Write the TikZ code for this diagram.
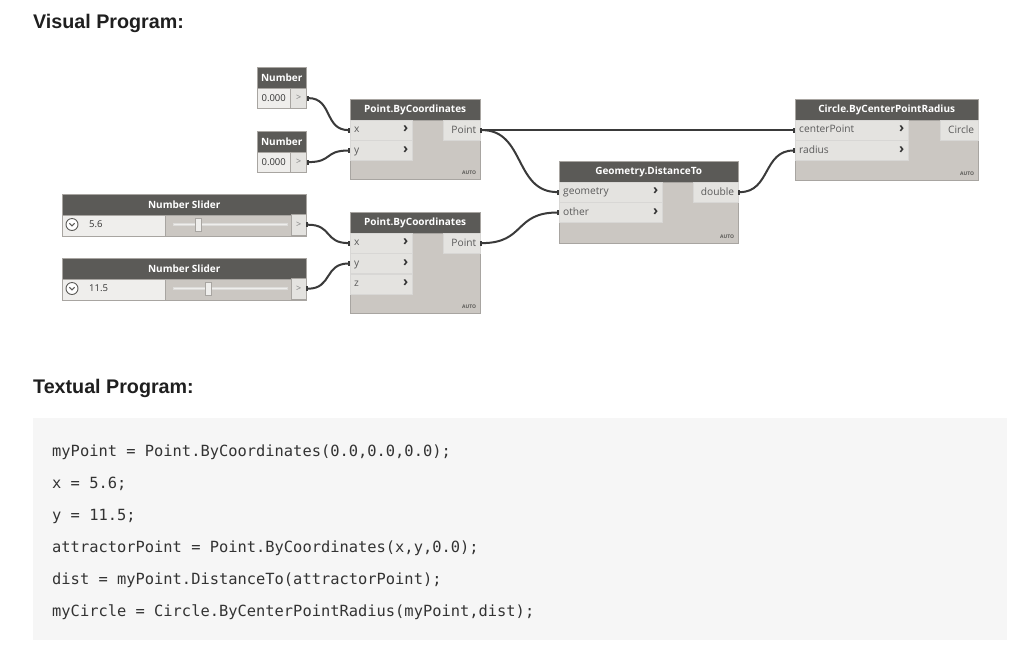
\documentclass[tikz,border=0pt]{standalone}
\usepackage{fontspec}
\setmainfont{Liberation Sans}
\newfontfamily\dynfont{Open Sans}
\newfontfamily\codefont{DejaVu Sans Mono}
\usetikzlibrary{positioning, arrows.meta}

\definecolor{headgray}{HTML}{5B5A57}
\definecolor{bodygray}{HTML}{CBC7C2}
\definecolor{rowgray}{HTML}{E4E3E0}
\definecolor{rowlight}{HTML}{EFEEEC}
\definecolor{edgegray}{HTML}{A8A5A1}
\definecolor{wiregray}{HTML}{3A3A3A}
\definecolor{labelgray}{HTML}{5A5A5A}
\definecolor{codebg}{HTML}{F6F6F6}
\definecolor{codetext}{HTML}{333333}

\newcommand{\chev}{{\color{codetext}\bfseries\fontsize{14}{12}\selectfont\char"203A}}

\tikzstyle{title} = [anchor=base west, inner sep=0pt, text=black!88, font=\bfseries\fontsize{19.7}{22}\selectfont]
\tikzstyle{node_head} = [rectangle, anchor=north west, draw=edgegray, fill=headgray, text=white, inner sep=0pt, minimum height=20.5, font=\dynfont\bfseries\fontsize{10}{11}\selectfont]
\tikzstyle{node_body} = [rectangle, anchor=north west, draw=edgegray, fill=bodygray, inner sep=0pt]
\tikzstyle{in_port} = [rectangle, anchor=north west, draw=edgegray!45, fill=rowgray, text=labelgray, inner xsep=4pt, inner ysep=0pt, minimum height=20, text height=7.5pt, text depth=2.5pt, align=left, font=\dynfont\fontsize{10.2}{12}\selectfont]
\tikzstyle{out_port} = [rectangle, anchor=north east, draw=edgegray!45, fill=rowgray, text=labelgray, inner xsep=4pt, inner ysep=0pt, minimum height=20, align=right, font=\dynfont\fontsize{10.2}{12}\selectfont]
\tikzstyle{val_box} = [rectangle, anchor=north west, draw=edgegray, fill=rowlight, text=codetext, inner sep=0pt, minimum height=20, font=\dynfont\fontsize{9.5}{11}\selectfont]
\tikzstyle{num_out} = [rectangle, anchor=north west, draw=edgegray, fill=rowgray, text=gray, inner sep=0pt, minimum width=16, minimum height=20, font=\dynfont\fontsize{9}{11}\selectfont]
\tikzstyle{auto_tag} = [anchor=south east, inner sep=0pt, text=headgray, font=\dynfont\bfseries\fontsize{5}{6}\selectfont]
\tikzstyle{wire} = [line width=2pt, wiregray, {Square[length=2pt,width=5pt]}-{Square[length=2pt,width=5pt]}]
\tikzstyle{code_line} = [anchor=base west, inner sep=0pt, text=codetext, font=\codefont\fontsize{15.4}{18}\selectfont]

\begin{document}
\begin{tikzpicture}[x=1pt, y=-1pt]

    % page frame
    \useasboundingbox (0,0) rectangle (1024,649);
    \fill [white] (0,0) rectangle (1024,649);

    \node (visual) [title] at (33,28) {Visual Program:};

    % number inputs
    \node (numA) [node_head, minimum width=49] at (257,67) {Number};
    \node (numA_val) [val_box, minimum width=33] at (numA.south west) {0.000};
    \node (numA_out) [num_out] at (numA_val.north east) {>};

    \node (numB) [node_head, minimum width=49] at (257,131) {Number};
    \node (numB_val) [val_box, minimum width=33] at (numB.south west) {0.000};
    \node (numB_out) [num_out] at (numB_val.north east) {>};

    % number sliders
    \node (sldA) [node_head, minimum width=244] at (62,194) {Number Slider};
    \node (sldA_body) [node_body, minimum width=244, minimum height=21] at (sldA.south west) {};
    \node (sldA_val) [val_box, minimum width=103, minimum height=21] at (sldA_body.north west) {};
    \node (sldA_btn) [circle, draw=headgray, fill=white, line width=0.9pt, minimum size=12, inner sep=0pt] at (72,224.5) {};
    \draw [headgray, line width=1.1pt] ([xshift=-2.6, yshift=1.2]sldA_btn.center) -- ([yshift=-1.4]sldA_btn.center) -- ([xshift=2.6, yshift=1.2]sldA_btn.center);
    \node (sldA_num) [anchor=west, inner sep=0pt, text=codetext, font=\dynfont\fontsize{9.5}{11}\selectfont] at (89,224.5) {5.6};
    \node (sldA_track) [rectangle, fill=rowlight, draw=edgegray!40, minimum width=114, minimum height=2, inner sep=0pt] at (230,224.5) {};
    \node (sldA_thumb) [rectangle, fill=rowlight, draw=edgegray, minimum width=6, minimum height=13, inner sep=0pt] at (198,224.5) {};
    \node (sldA_out) [num_out, minimum height=21, minimum width=15] at (291,214) {>};

    \node (sldB) [node_head, minimum width=244] at (62,258) {Number Slider};
    \node (sldB_body) [node_body, minimum width=244, minimum height=21] at (sldB.south west) {};
    \node (sldB_val) [val_box, minimum width=103, minimum height=21] at (sldB_body.north west) {};
    \node (sldB_btn) [circle, draw=headgray, fill=white, line width=0.9pt, minimum size=12, inner sep=0pt] at (72,288.5) {};
    \draw [headgray, line width=1.1pt] ([xshift=-2.6, yshift=1.2]sldB_btn.center) -- ([yshift=-1.4]sldB_btn.center) -- ([xshift=2.6, yshift=1.2]sldB_btn.center);
    \node (sldB_num) [anchor=west, inner sep=0pt, text=codetext, font=\dynfont\fontsize{9.5}{11}\selectfont] at (89,288.5) {11.5};
    \node (sldB_track) [rectangle, fill=rowlight, draw=edgegray!40, minimum width=114, minimum height=2, inner sep=0pt] at (230,288.5) {};
    \node (sldB_thumb) [rectangle, fill=rowlight, draw=edgegray, minimum width=6, minimum height=13, inner sep=0pt] at (208,288.5) {};
    \node (sldB_out) [num_out, minimum height=21, minimum width=15] at (291,278) {>};

    % first Point.ByCoordinates
    \node (pbcA) [node_head, minimum width=130] at (350,99) {Point.ByCoordinates};
    \node (pbcA_body) [node_body, minimum width=130, minimum height=59] at (pbcA.south west) {};
    \node (pbcA_x) [in_port, text width=54] at (pbcA_body.north west) {x\hfill\chev};
    \node (pbcA_y) [in_port, text width=54] at (pbcA_x.south west) {y\hfill\chev};
    \node (pbcA_out) [out_port, text width=29] at (pbcA_body.north east) {Point};
    \node (pbcA_auto) [auto_tag] at ([xshift=-4, yshift=5]pbcA_body.south east) {AUTO};

    % second Point.ByCoordinates
    \node (pbcB) [node_head, minimum width=130] at (350,212) {Point.ByCoordinates};
    \node (pbcB_body) [node_body, minimum width=130, minimum height=80] at (pbcB.south west) {};
    \node (pbcB_x) [in_port, text width=54] at (pbcB_body.north west) {x\hfill\chev};
    \node (pbcB_y) [in_port, text width=54] at (pbcB_x.south west) {y\hfill\chev};
    \node (pbcB_z) [in_port, text width=54] at (pbcB_y.south west) {z\hfill\chev};
    \node (pbcB_out) [out_port, text width=29] at (pbcB_body.north east) {Point};
    \node (pbcB_auto) [auto_tag] at ([xshift=-4, yshift=5]pbcB_body.south east) {AUTO};

    % Geometry.DistanceTo
    \node (dist) [node_head, minimum width=179] at (559,161) {Geometry.DistanceTo};
    \node (dist_body) [node_body, minimum width=179, minimum height=61] at (dist.south west) {};
    \node (dist_geo) [in_port, text width=95] at (dist_body.north west) {geometry\hfill\chev};
    \node (dist_other) [in_port, text width=95] at (dist_geo.south west) {other\hfill\chev};
    \node (dist_out) [out_port, text width=37] at (dist_body.north east) {double};
    \node (dist_auto) [auto_tag] at ([xshift=-4, yshift=5]dist_body.south east) {AUTO};

    % Circle.ByCenterPointRadius
    \node (circ) [node_head, minimum width=183] at (795,99) {Circle.ByCenterPointRadius};
    \node (circ_body) [node_body, minimum width=183, minimum height=60] at (circ.south west) {};
    \node (circ_cp) [in_port, text width=105] at (circ_body.north west) {centerPoint\hfill\chev};
    \node (circ_rad) [in_port, text width=105] at (circ_cp.south west) {radius\hfill\chev};
    \node (circ_out) [out_port, text width=30] at (circ_body.north east) {Circle};
    \node (circ_auto) [auto_tag] at ([xshift=-4, yshift=5]circ_body.south east) {AUTO};

    % wires
    \draw [wire] (numA_out.east) .. controls +(26,0) and +(-26,0) .. (pbcA_x.west);
    \draw [wire] (numB_out.east) .. controls +(26,0) and +(-26,0) .. (pbcA_y.west);
    \draw [wire] (sldA_out.east) .. controls +(26,0) and +(-26,0) .. (pbcB_x.west);
    \draw [wire] (sldB_out.east) .. controls +(26,0) and +(-26,0) .. (pbcB_y.west);
    \draw [wire] (pbcA_out.east) -- (circ_cp.west);
    \draw [wire] (pbcA_out.east) .. controls +(45,0) and +(-45,0) .. (dist_geo.west);
    \draw [wire] (pbcB_out.east) .. controls +(45,0) and +(-45,0) .. (dist_other.west);
    \draw [wire] (dist_out.east) .. controls +(32,0) and +(-32,0) .. (circ_rad.west);

    \node (textual) [title] at (33,393) {Textual Program:};

    % code listing
    \node (code_box) [rectangle, anchor=north west, fill=codebg, minimum width=974, minimum height=222, inner sep=0pt] at (33,418) {};
    \node (code1) [code_line] at (52,456) {myPoint = Point.ByCoordinates(0.0,0.0,0.0);};
    \node (code2) [code_line] at (52,488) {x = 5.6;};
    \node (code3) [code_line] at (52,520) {y = 11.5;};
    \node (code4) [code_line] at (52,552) {attractorPoint = Point.ByCoordinates(x,y,0.0);};
    \node (code5) [code_line] at (52,584) {dist = myPoint.DistanceTo(attractorPoint);};
    \node (code6) [code_line] at (52,616) {myCircle = Circle.ByCenterPointRadius(myPoint,dist);};

\end{tikzpicture}
\end{document}
